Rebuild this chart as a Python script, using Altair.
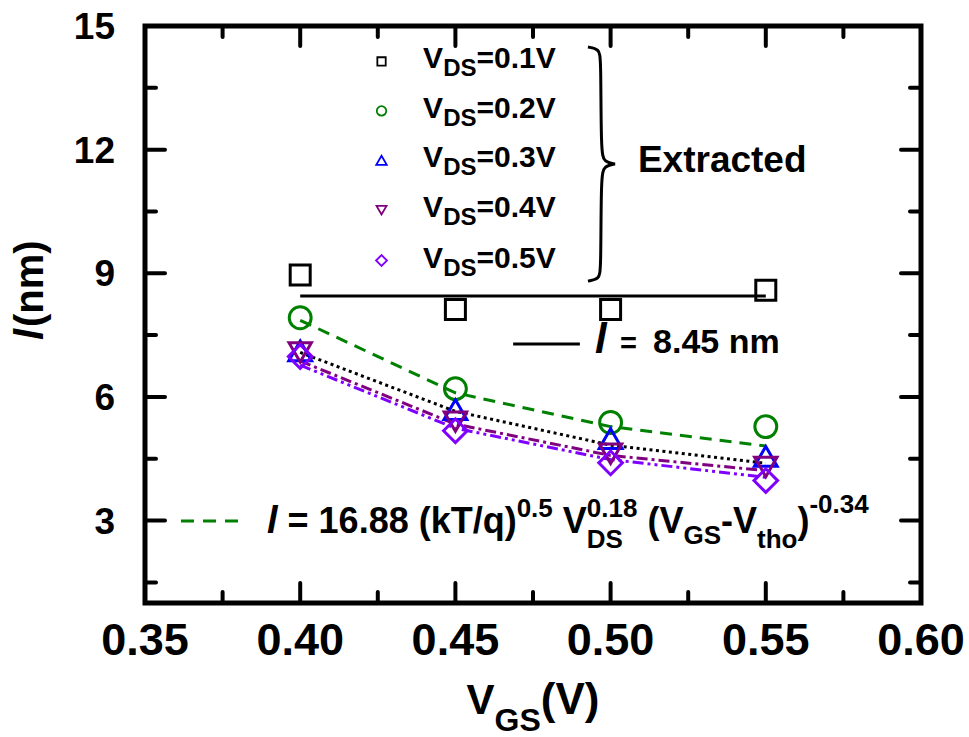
import altair as alt
import pandas as pd

# ---------------- data ----------------
vgs = [0.40, 0.45, 0.50, 0.55]

# extracted mean free path l (nm) for each drain bias
l_vds01 = [8.96, 8.12, 8.12, 8.59]
l_vds02 = [7.92, 6.20, 5.38, 5.28]
l_vds03 = [7.12, 5.69, 4.99, 4.56]
l_vds04 = [7.08, 5.40, 4.62, 4.30]
l_vds05 = [6.98, 5.18, 4.40, 3.97]

# mean of the V_DS = 0.1 V points
l_mean = 8.45

# empirical model curves
model_green = [7.86, 6.10, 5.28, 4.81]
model_black = [7.08, 5.65, 4.83, 4.39]
model_purple = [6.87, 5.34, 4.58, 4.21]
model_violet = [6.77, 5.24, 4.48, 4.05]

vds_labels = ["0.1", "0.2", "0.3", "0.4", "0.5"]

x_tick_labels = [0.35, 0.40, 0.45, 0.50, 0.55, 0.60]
y_tick_labels = [3, 6, 9, 12, 15]
x_major = [0.40, 0.45, 0.50, 0.55]
x_minor = [0.375, 0.425, 0.475, 0.525, 0.575]
y_major = [3, 6, 9, 12]
y_minor = [1.5, 4.5, 7.5, 10.5, 13.5]

# ---------------- styling ----------------
W, H = 776, 577
FONT = "Liberation Sans, Arial, Helvetica, sans-serif"
colors = ["#000000", "#008000", "#0000ff", "#800080", "#8000ff"]
shapes = ["square", "circle", "triangle-up", "triangle-down", "diamond"]
marker_sizes = [400, 480, 520, 500, 560]
legend_sizes = [70, 90, 110, 100, 120]

xs = alt.Scale(domain=[0.35, 0.60], nice=False, zero=False)
ys = alt.Scale(domain=[1, 15], nice=False, zero=False)

# Arial/Liberation Sans Bold advance widths (1/1000 em), used to chain text runs
ADV = {" ": 278, "(": 333, ")": 333, "-": 333, ".": 278, "/": 278, "=": 584,
       "D": 722, "E": 667, "G": 778, "S": 667, "T": 611, "V": 667,
       "a": 556, "c": 556, "d": 611, "e": 556, "h": 611, "k": 556, "l": 278,
       "m": 889, "n": 611, "o": 611, "q": 611, "r": 389, "t": 333, "x": 556}


def text_width(s, size):
    return sum(ADV.get(c, 556) for c in s) / 1000.0 * size


one = pd.DataFrame({"k": [0]})


def xd(v):
    return alt.XDatum(v, scale=xs, axis=None)


def yd(v):
    return alt.YDatum(v, scale=ys, axis=None)


def text_layer(txt, size, x, y, dx=0.0, dy=0.0, italic=False, angle=0):
    props = dict(text=txt, fontSize=size, font=FONT, fontWeight="bold",
                 align="left", baseline="alphabetic", dx=dx, dy=dy, color="black")
    if italic:
        props["fontStyle"] = "italic"
    if angle:
        props["angle"] = angle
    return alt.Chart(one).mark_text(**props).encode(x=x, y=y)


def rich(runs, x, y, angle=0, start=0.0):
    """runs: (text, size, dy, italic, advance or None); leading blanks become offsets"""
    out, cur = [], start
    for txt, size, dy, italic, adv in runs:
        body = txt.lstrip(" ")
        lead = text_width(txt[: len(txt) - len(body)], size)
        out.append(text_layer(body, size, x, y, dx=cur + lead, dy=dy, italic=italic, angle=angle))
        cur += text_width(txt, size) if adv is None else adv
    return out


layers = []

# ---------------- inward ticks on all four sides ----------------
def tick_rules(vals, length, side):
    df = pd.DataFrame({"t": vals})
    base = alt.Chart(df).mark_rule(strokeWidth=4, strokeCap="round", color="black")
    if side == "bottom":
        return base.encode(x=alt.X("t:Q", scale=xs, axis=None), y=alt.value(H), y2=alt.value(H - length))
    if side == "top":
        return base.encode(x=alt.X("t:Q", scale=xs, axis=None), y=alt.value(0), y2=alt.value(length))
    if side == "left":
        return base.encode(y=alt.Y("t:Q", scale=ys, axis=None), x=alt.value(0), x2=alt.value(length))
    return base.encode(y=alt.Y("t:Q", scale=ys, axis=None), x=alt.value(W), x2=alt.value(W - length))


for side in ["bottom", "top"]:
    layers.append(tick_rules(x_major, 20, side))
    layers.append(tick_rules(x_minor, 11, side))
for side in ["left", "right"]:
    layers.append(tick_rules(y_major, 20, side))
    layers.append(tick_rules(y_minor, 11, side))

# tick labels
xl = pd.DataFrame({"v": x_tick_labels, "s": [f"{v:.2f}" for v in x_tick_labels]})
layers.append(alt.Chart(xl).mark_text(fontSize=45, font=FONT, fontWeight="bold", align="center",
                                      baseline="alphabetic", color="black").encode(
    x=alt.X("v:Q", scale=xs, axis=None), y=alt.value(629), text="s:N"))
yl = pd.DataFrame({"v": y_tick_labels, "s": [str(v) for v in y_tick_labels]})
layers.append(alt.Chart(yl).mark_text(fontSize=37, font=FONT, fontWeight="bold", align="right",
                                      baseline="alphabetic", dy=13, color="black").encode(
    y=alt.Y("v:Q", scale=ys, axis=None), x=alt.value(-30), text="s:N"))

# ---------------- model curves ----------------
def curve(vals, color, dash):
    df = pd.DataFrame({"vgs": vgs, "l": vals})
    props = dict(color=color, strokeWidth=3)
    if dash:
        props["strokeDash"] = dash
    return alt.Chart(df).mark_line(**props).encode(
        x=alt.X("vgs:Q", scale=xs, axis=None), y=alt.Y("l:Q", scale=ys, axis=None))


layers.append(curve(model_green, "#008000", [12, 8]))
layers.append(curve(model_black, "#000000", [3, 3.5]))
layers.append(curve(model_purple, "#800080", [11, 4, 3, 4]))
layers.append(curve(model_violet, "#8000ff", [11, 4, 3, 4, 3, 4]))

# mean value line
mean_df = pd.DataFrame({"vgs": [vgs[0], vgs[-1]], "l": [l_mean, l_mean]})
layers.append(alt.Chart(mean_df).mark_line(color="black", strokeWidth=3).encode(
    x=alt.X("vgs:Q", scale=xs, axis=None), y=alt.Y("l:Q", scale=ys, axis=None)))

# ---------------- extracted points ----------------
rows = []
for i, vals in enumerate([l_vds01, l_vds02, l_vds03, l_vds04, l_vds05]):
    for x, v in zip(vgs, vals):
        rows.append({"vgs": x, "l": v, "shape": shapes[i], "color": colors[i], "size": marker_sizes[i]})
pts = pd.DataFrame(rows)

layers.append(alt.Chart(pts).mark_point(filled=False, strokeWidth=3, opacity=1).encode(
    x=alt.X("vgs:Q", scale=xs, axis=None),
    y=alt.Y("l:Q", scale=ys, axis=None),
    shape=alt.Shape("shape:N", scale=None),
    color=alt.Color("color:N", scale=None),
    size=alt.Size("size:Q", scale=None),
))

# ---------------- legend block ----------------
legend_rows = [14.14, 12.94, 11.74, 10.53, 9.31]
leg = pd.DataFrame({"row": legend_rows, "shape": shapes, "color": colors,
                    "size": legend_sizes, "rest": ["=" + v + "V" for v in vds_labels]})
layers.append(alt.Chart(leg).mark_point(filled=False, strokeWidth=1.8, opacity=1).encode(
    x=xd(0.4262), y=alt.Y("row:Q", scale=ys, axis=None),
    shape=alt.Shape("shape:N", scale=None), color=alt.Color("color:N", scale=None),
    size=alt.Size("size:Q", scale=None)))

LEG_X = 0.4396
v_w = text_width("V", 30)
ds_w = text_width("DS", 24)
common = dict(font=FONT, fontWeight="bold", align="left", baseline="alphabetic", color="black")
layers.append(alt.Chart(leg).mark_text(text="V", fontSize=30, dy=7, **common).encode(
    x=xd(LEG_X), y=alt.Y("row:Q", scale=ys, axis=None)))
layers.append(alt.Chart(leg).mark_text(text="DS", fontSize=24, dx=v_w, dy=15, **common).encode(
    x=xd(LEG_X), y=alt.Y("row:Q", scale=ys, axis=None)))
layers.append(alt.Chart(leg).mark_text(fontSize=30, dx=v_w + ds_w, dy=7, **common).encode(
    x=xd(LEG_X), y=alt.Y("row:Q", scale=ys, axis=None), text=alt.Text("rest:N")))

# curly brace grouping the legend entries
brace = pd.DataFrame({
    "bx": [0.4927, 0.4963, 0.4969, 0.4969, 0.4979, 0.5014, 0.5014, 0.5014,
           0.4979, 0.4969, 0.4969, 0.4963, 0.4927],
    "by": [14.49, 14.44, 14.22, 11.94, 11.70, 11.652, 11.652, 11.652,
           11.60, 11.36, 9.08, 8.86, 8.81],
})
brace["i"] = range(len(brace))
layers.append(alt.Chart(brace).mark_line(color="black", strokeWidth=3, interpolate="basis").encode(
    x=alt.X("bx:Q", scale=xs, axis=None), y=alt.Y("by:Q", scale=ys, axis=None),
    order=alt.Order("i:Q")))

layers.append(text_layer("Extracted", 37, xd(0.5088), yd(11.465)))

# ---------------- mean value annotation ----------------
seg = pd.DataFrame({"a": [0.4686], "b": [0.4901], "y": [7.284]})
layers.append(alt.Chart(seg).mark_rule(color="black", strokeWidth=3).encode(
    x=alt.X("a:Q", scale=xs, axis=None), x2="b:Q", y=alt.Y("y:Q", scale=ys, axis=None)))
layers += rich([("l", 42, 0, True, 25.0), ("=", 29, 0, False, 33.0), ("8.45 nm", 34, 0, False, None)],
               xd(0.4950), yd(7.066))

# ---------------- model formula annotation ----------------
seg2 = pd.DataFrame({"a": [0.3616], "b": [0.3819], "y": [2.99]})
layers.append(alt.Chart(seg2).mark_rule(color="#008000", strokeWidth=3, strokeDash=[13, 9]).encode(
    x=alt.X("a:Q", scale=xs, axis=None), x2="b:Q", y=alt.Y("y:Q", scale=ys, axis=None)))
MAIN, SMALL = 36, 26
formula = [
    ("l", 38, 0, True, None),
    (" = 16.88 (kT/q)", MAIN, 0, False, None),
    ("0.5", SMALL, -16, False, None),
    (" V", MAIN, 0, False, None),
    ("0.18", SMALL, -16, False, 0.0),
    ("DS", SMALL, 15, False, text_width("0.18", SMALL)),
    (" (V", MAIN, 0, False, None),
    ("GS", SMALL, 11, False, None),
    ("-V", MAIN, 0, False, None),
    ("tho", SMALL, 15, False, None),
    (")", MAIN, 0, False, None),
    ("-0.34", SMALL, -20, False, None),
]
layers += rich(formula, xd(0.3893), yd(2.698))

# ---------------- axis titles ----------------
xt_runs = [("V", 42, 0, False, None), ("GS", 32, 17, False, None), ("(V)", 44, 0, False, None)]
xt_total = sum(text_width(t, s) for t, s, _, _, _ in xt_runs)
layers += rich(xt_runs, alt.value(W / 2), alt.value(688), start=-xt_total / 2)
layers += rich([("l", 40, 0, True, 13.0), ("(nm)", 40, 0, False, None)],
               alt.value(-102), alt.value(314), angle=270)

chart = alt.layer(*layers).properties(
    width=W, height=H,
    padding={"left": 145, "top": 26, "right": 48, "bottom": 134},
    autosize=alt.AutoSizeParams(type="none"),
    background="white",
).configure_view(stroke="black", strokeWidth=5)

chart.save("out.html", embed_options={"renderer": "svg", "actions": False})
